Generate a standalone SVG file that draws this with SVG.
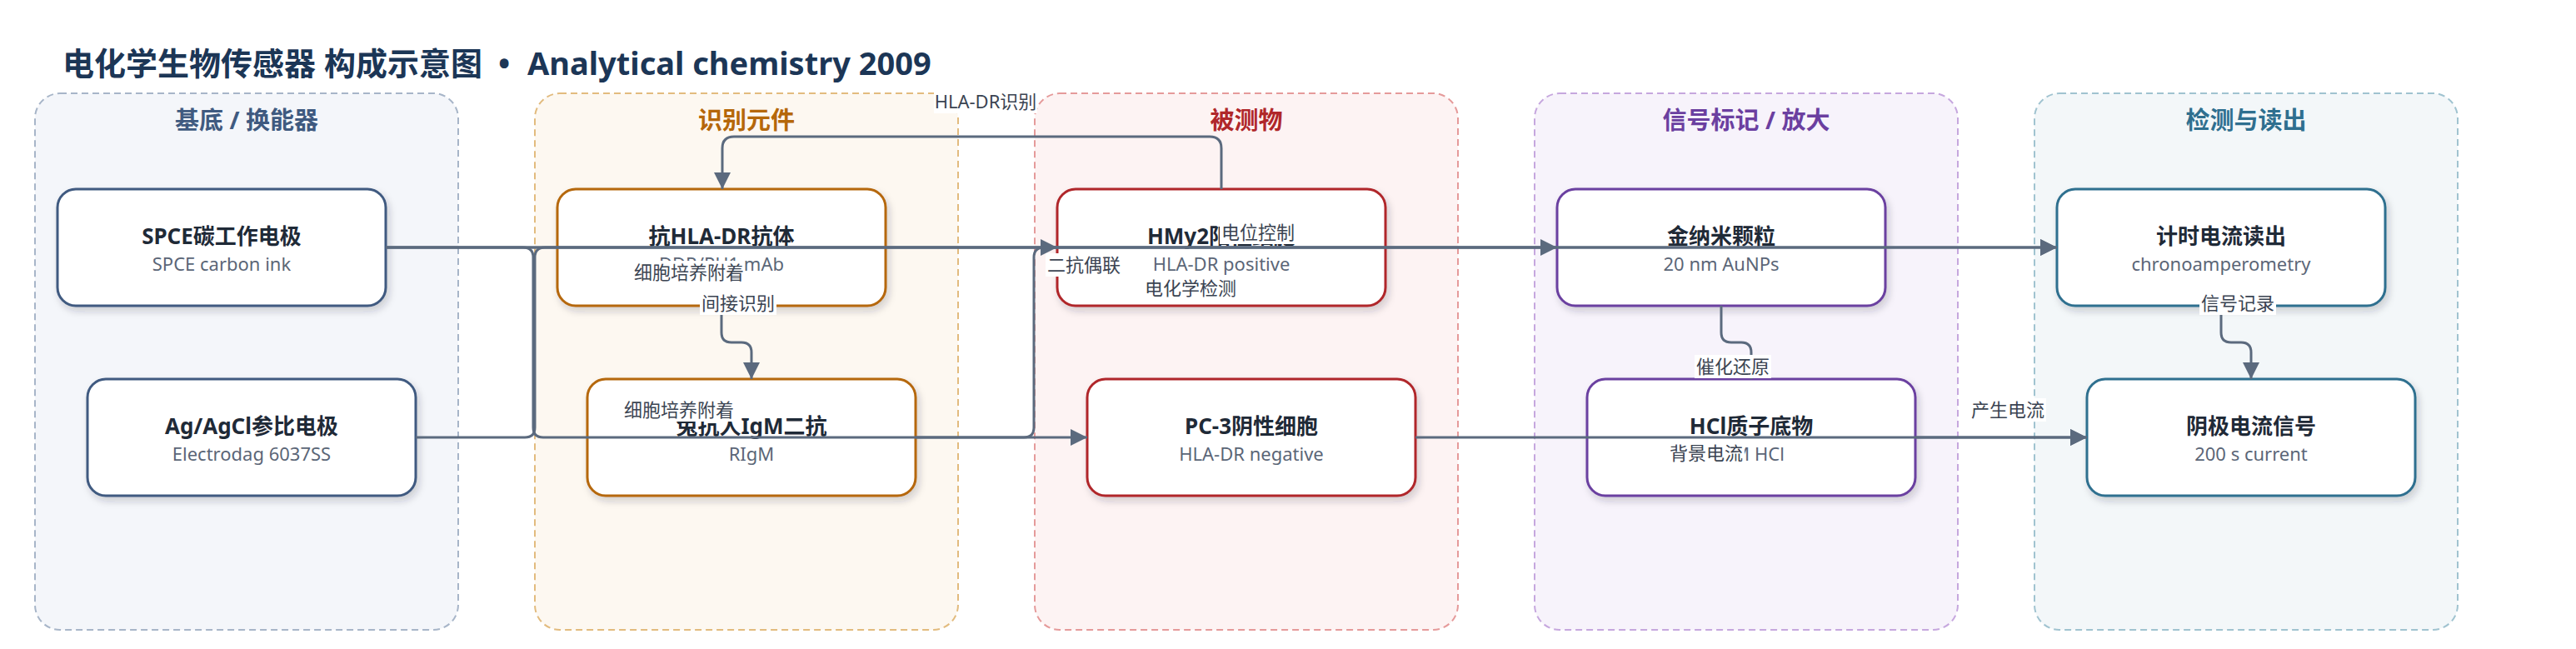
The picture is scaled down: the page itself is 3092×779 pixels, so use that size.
<svg xmlns="http://www.w3.org/2000/svg" width="3092" height="779" viewBox="0 0 3092 779">
<defs>
<style>
text{font-family:"Noto Sans","Noto Sans CJK SC",sans-serif;}
.title{font-size:38px;font-weight:700;fill:#1c3656;}
.glabel{font-size:29px;font-weight:700;text-anchor:middle;}
.grp{stroke-width:2;stroke-dasharray:8 5;}
.node{fill:#ffffff;stroke-width:3;filter:url(#sh);}
.nt{font-size:26px;font-weight:700;fill:#1f2a37;text-anchor:middle;}
.ns{font-size:22px;fill:#5b6677;text-anchor:middle;}
.edge{fill:none;stroke:#5b6a7e;stroke-width:3;}
.arr{marker-end:url(#ah);}
.lb{fill:#ffffff;}
.lt{font-size:22px;fill:#3b4452;text-anchor:middle;}
</style>
<filter id="sh" x="-10%" y="-20%" width="125%" height="150%">
<feDropShadow dx="3" dy="5" stdDeviation="4" flood-color="#1e293b" flood-opacity="0.2"/>
</filter>
<marker id="ah" viewBox="0 0 20 20" refX="20" refY="10" markerWidth="20" markerHeight="20" markerUnits="userSpaceOnUse" orient="auto">
<path d="M0,0 L20,10 L0,20 z" fill="#5b6a7e"/>
</marker>
</defs>
<rect x="0" y="0" width="3092" height="779" fill="#ffffff"/>
<text class="title" x="75" y="90">电化学生物传感器 构成示意图<tspan x="598">•</tspan><tspan x="633">Analytical chemistry 2009</tspan></text>

<g id="group-substrate">
<rect class="grp" x="42" y="112" width="508" height="644" rx="30" fill="#f4f6fa" stroke="#a7b5c8"/>
<text class="glabel" x="296" y="155" fill="#3f5a80">基底 / 换能器</text>
</g>
<g id="group-recognition">
<rect class="grp" x="642" y="112" width="508" height="644" rx="30" fill="#fdf8f1" stroke="#e2bb7e"/>
<text class="glabel" x="896" y="155" fill="#b5670a">识别元件</text>
</g>
<g id="group-analyte">
<rect class="grp" x="1242" y="112" width="508" height="644" rx="30" fill="#fdf3f3" stroke="#e59a9a"/>
<text class="glabel" x="1496" y="155" fill="#b0272a">被测物</text>
</g>
<g id="group-label">
<rect class="grp" x="1842" y="112" width="508" height="644" rx="30" fill="#f7f3fb" stroke="#c6a7de"/>
<text class="glabel" x="2096" y="155" fill="#6b3fa0">信号标记 / 放大</text>
</g>
<g id="group-readout">
<rect class="grp" x="2442" y="112" width="508" height="644" rx="30" fill="#f3f7f9" stroke="#a0c3d0"/>
<text class="glabel" x="2696" y="155" fill="#2f6f8f">检测与读出</text>
</g>

<g id="node-spce">
<rect class="node" x="69" y="227" width="394" height="140" rx="22" stroke="#3f5a80"/>
<text class="nt" x="266" y="293">SPCE碳工作电极</text>
<text class="ns" x="266" y="325">SPCE carbon ink</text>
</g>
<g id="node-agagcl">
<rect class="node" x="105" y="455" width="394" height="140" rx="22" stroke="#3f5a80"/>
<text class="nt" x="302" y="521">Ag/AgCl参比电极</text>
<text class="ns" x="302" y="553">Electrodag 6037SS</text>
</g>
<g id="node-antihla">
<rect class="node" x="669" y="227" width="394" height="140" rx="22" stroke="#b5670a"/>
<text class="nt" x="866" y="293">抗HLA-DR抗体</text>
<text class="ns" x="866" y="325">DDR/PH1 mAb</text>
</g>
<g id="node-rigm">
<rect class="node" x="705" y="455" width="394" height="140" rx="22" stroke="#b5670a"/>
<text class="nt" x="902" y="521">兔抗人IgM二抗</text>
<text class="ns" x="902" y="553">RIgM</text>
</g>
<g id="node-hmy2">
<rect class="node" x="1269" y="227" width="394" height="140" rx="22" stroke="#b0272a"/>
<text class="nt" x="1466" y="293">HMy2阳性细胞</text>
<text class="ns" x="1466" y="325">HLA-DR positive</text>
</g>
<g id="node-pc3">
<rect class="node" x="1305" y="455" width="394" height="140" rx="22" stroke="#b0272a"/>
<text class="nt" x="1502" y="521">PC-3阴性细胞</text>
<text class="ns" x="1502" y="553">HLA-DR negative</text>
</g>
<g id="node-aunp">
<rect class="node" x="1869" y="227" width="394" height="140" rx="22" stroke="#6b3fa0"/>
<text class="nt" x="2066" y="293">金纳米颗粒</text>
<text class="ns" x="2066" y="325">20 nm AuNPs</text>
</g>
<g id="node-hcl">
<rect class="node" x="1905" y="455" width="394" height="140" rx="22" stroke="#6b3fa0"/>
<text class="nt" x="2102" y="521">HCl质子底物</text>
<text class="ns" x="2102" y="553">1 M HCl</text>
</g>
<g id="node-chrono">
<rect class="node" x="2469" y="227" width="394" height="140" rx="22" stroke="#2f6f8f"/>
<text class="nt" x="2666" y="293">计时电流读出</text>
<text class="ns" x="2666" y="325">chronoamperometry</text>
</g>
<g id="node-cathodic">
<rect class="node" x="2505" y="455" width="394" height="140" rx="22" stroke="#2f6f8f"/>
<text class="nt" x="2702" y="521">阴极电流信号</text>
<text class="ns" x="2702" y="553">200 s current</text>
</g>

<g id="connectors">
<path class="edge arr" d="M463,297 H1269"/>
<path class="edge arr" d="M463,297 H628 Q640,297 640,309 V513 Q640,525 652,525 H1305"/>
<path class="edge arr" d="M499,525 H630 Q642,525 642,513 V309 Q642,297 654,297 H2469"/>
<path class="edge arr" d="M463,297 H2469"/>
<path class="edge arr" d="M1466,227 V178 Q1466,164 1452,164 H881 Q867,164 867,178 V227"/>
<path class="edge arr" d="M866,367 V399 Q866,411 878,411 H890 Q902,411 902,423 V455"/>
<path class="edge arr" d="M1099,525 H1229 Q1241,525 1241,513 V309 Q1241,297 1253,297 H1869"/>
<path class="edge arr" d="M2066,367 V399 Q2066,411 2078,411 H2090 Q2102,411 2102,423 V455"/>
<path class="edge arr" d="M1699,525 H2505"/>
<path class="edge arr" d="M2299,525 H2505"/>
<path class="edge arr" d="M2666,367 V399 Q2666,411 2678,411 H2690 Q2702,411 2702,423 V455"/>
</g>

<g id="edge-labels">
<rect class="lb" x="1121" y="108" width="124" height="28"/><text class="lt" x="1183" y="130">HLA-DR识别</text>
<rect class="lb" x="760" y="313" width="134" height="28"/><text class="lt" x="827" y="335">细胞培养附着</text>
<rect class="lb" x="748" y="478" width="134" height="28"/><text class="lt" x="815" y="500">细胞培养附着</text>
<rect class="lb" x="840" y="350" width="92" height="28"/><text class="lt" x="886" y="372">间接识别</text>
<rect class="lb" x="1255" y="304" width="92" height="28"/><text class="lt" x="1301" y="326">二抗偶联</text>
<rect class="lb" x="1464" y="265" width="92" height="28"/><text class="lt" x="1510" y="287">电位控制</text>
<rect class="lb" x="1373" y="332" width="112" height="28"/><text class="lt" x="1429" y="354">电化学检测</text>
<rect class="lb" x="2034" y="426" width="92" height="28"/><text class="lt" x="2080" y="448">催化还原</text>
<rect class="lb" x="2364" y="478" width="92" height="28"/><text class="lt" x="2410" y="500">产生电流</text>
<rect class="lb" x="2002" y="530" width="92" height="28"/><text class="lt" x="2048" y="552">背景电流</text>
<rect class="lb" x="2640" y="350" width="92" height="28"/><text class="lt" x="2686" y="372">信号记录</text>
</g>
</svg>
